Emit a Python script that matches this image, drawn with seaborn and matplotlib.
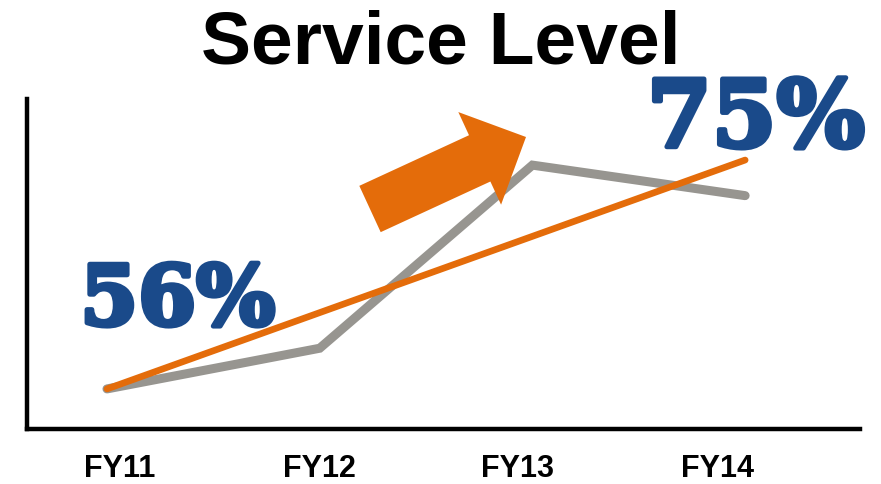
import numpy as np
import pandas as pd
import seaborn as sns
import matplotlib
matplotlib.use("Agg")
import matplotlib.pyplot as plt
import matplotlib.patheffects as pe
from matplotlib.patches import FancyArrow
from matplotlib.transforms import Affine2D

# ---- data ----
years = ["FY11", "FY12", "FY13", "FY14"]
service_level = [56, 60, 78, 75]
first_label = "56%"
last_label = "75%"
title = "Service Level"

GREY = "#979590"
ORANGE = "#E46C0A"
BLUE = "#1A4A8A"

sns.set_theme(style="white")
plt.rcParams["font.family"] = ["Liberation Sans", "DejaVu Sans"]

df = pd.DataFrame({"idx": np.arange(len(years)), "year": years, "value": service_level})

fig = plt.figure(figsize=(8.81, 4.85), dpi=100)
ax = fig.add_axes([27 / 881, 1 - 430 / 485, (860 - 27) / 881, (430 - 100) / 485])

sns.lineplot(data=df, x="idx", y="value", ax=ax, color=GREY, linewidth=6.5,
             solid_capstyle="round", solid_joinstyle="miter", zorder=2)
sns.regplot(data=df, x="idx", y="value", ax=ax, ci=None, scatter=False, truncate=True,
            line_kws=dict(color=ORANGE, linewidth=4.8, solid_capstyle="round", zorder=3))

ax.set_xlim(-0.376, 3.54)
ax.set_ylim(52.06, 84.5)
ax.set_xlabel("")
ax.set_ylabel("")
ax.set_yticks([])
ax.set_xticks(np.arange(len(years)) + np.array([0.06, 0.0, -0.07, -0.13]))
ax.set_xticklabels(years, fontsize=22, fontweight="bold",
                   family=["Liberation Sans Narrow", "Liberation Sans", "DejaVu Sans"])
ax.tick_params(axis="x", length=0, pad=17, colors="black")

for side in ["top", "right"]:
    ax.spines[side].set_visible(False)
for side in ["left", "bottom"]:
    ax.spines[side].set_visible(True)
    ax.spines[side].set_color("black")
    ax.spines[side].set_linewidth(3.2)

# big value labels
heavy = [pe.withStroke(linewidth=3.5, foreground=BLUE)]
ax.text(0.181, 0.385, first_label, transform=ax.transAxes, ha="center", va="center",
        fontsize=60, fontweight="bold", color=BLUE, family=["DejaVu Serif"],
        path_effects=heavy)
ax.text(0.875, 0.934, last_label, transform=ax.transAxes, ha="center", va="center",
        fontsize=67, fontweight="bold", color=BLUE, family=["DejaVu Serif"],
        path_effects=heavy, clip_on=False)

fig.text(0.5, 1 - 44 / 485, title, ha="center", va="center", fontsize=54,
         fontweight="bold", color="black")

# decorative arrow (pixel coordinates, y down)
pix = Affine2D().scale(1, -1).translate(0, 485)
arrow = FancyArrow(370, 210, 156, -72, width=51, head_width=102, head_length=51,
                   length_includes_head=True, color=ORANGE, linewidth=0,
                   transform=pix, zorder=5)
fig.patches.append(arrow)

fig.savefig("out.png", dpi=100)
